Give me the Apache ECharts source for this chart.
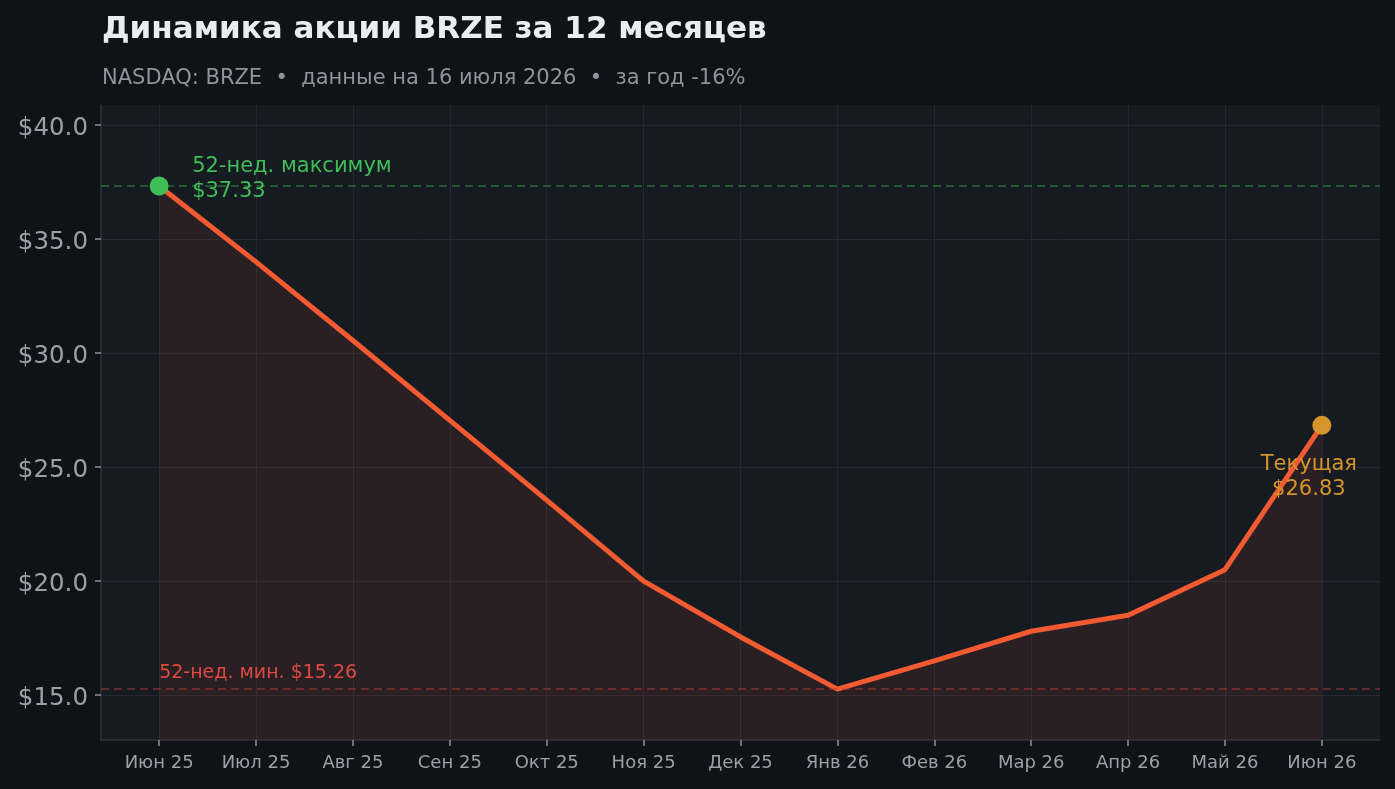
<!DOCTYPE html>
<html>
<head>
<meta charset="utf-8">
<script src="https://cdn.jsdelivr.net/npm/echarts@6/dist/echarts.min.js"></script>
<style>
html,body{margin:0;padding:0;background:#0f1317;}
#chart{width:1395px;height:789px;}
</style>
</head>
<body>
<div id="chart"></div>
<script>
const months = ['Июн 25','Июл 25','Авг 25','Сен 25','Окт 25','Ноя 25','Дек 25','Янв 26','Фев 26','Мар 26','Апр 26','Май 26','Июн 26'];
const prices = [37.33, 34.0, 30.55, 27.05, 23.55, 20.0, 17.55, 15.26, 16.5, 17.8, 18.5, 20.5, 26.83];
const yTicks = [15, 20, 25, 30, 35, 40];
const high52 = 37.33;
const low52 = 15.26;
const current = 26.83;
const titleText = 'Динамика акции BRZE за 12 месяцев';
const subtitleText = 'NASDAQ: BRZE  •  данные на 16 июля 2026  •  за год -16%';

const monthIdx = months.map((m, i) => i);
const lineData = prices.map((p, i) => [i, p]);
const FONT = 'DejaVu Sans';

const chart = echarts.init(document.getElementById('chart'), null, {renderer: 'canvas'});
chart.setOption({
  backgroundColor: '#0f1317',
  animation: false,
  title: [
    {text: titleText, left: 102, top: 14, padding: 0,
     textStyle: {fontFamily: FONT, fontSize: 31, fontWeight: 'bold', color: '#e9edf3'}},
    {text: subtitleText, left: 102, top: 68, padding: 0,
     textStyle: {fontFamily: FONT, fontSize: 21, fontWeight: 'normal', color: '#8e949d'}}
  ],
  grid: {left: 101, right: 15, top: 105, bottom: 49, show: true,
         backgroundColor: '#161a21', borderWidth: 0},
  xAxis: {
    type: 'value', min: -0.6, max: 12.6,
    axisLine: {show: true, onZero: false, lineStyle: {color: '#2e333c', width: 1.5}},
    axisTick: {show: true, customValues: monthIdx, length: 6, lineStyle: {color: '#8a909a', width: 1.5}},
    axisLabel: {customValues: monthIdx, formatter: v => months[Math.round(v)] || '',
                fontFamily: FONT, fontSize: 18, color: '#9aa0a9', margin: 14},
    splitLine: {show: true, lineStyle: {color: '#242831', width: 1}}
  },
  yAxis: {
    type: 'value', min: 13.03, max: 40.88,
    axisLine: {show: true, onZero: false, lineStyle: {color: '#2e333c', width: 1.5}},
    axisTick: {show: true, customValues: yTicks, length: 6, lineStyle: {color: '#8a909a', width: 1.5}},
    axisLabel: {customValues: yTicks, formatter: v => '{a|$' + v.toFixed(1) + '}',
                margin: 13,
                rich: {a: {fontFamily: FONT, fontSize: 24.5, color: '#9aa0a9', padding: [7, 0, 0, 0]}}},
    splitLine: {show: true, lineStyle: {color: '#242831', width: 1}}
  },
  series: [
    {
      type: 'line', data: lineData, symbol: 'none', z: 3,
      lineStyle: {color: '#f25a32', width: 5, join: 'round'},
      areaStyle: {color: 'rgba(240,90,50,0.13)', origin: 'start'},
      markLine: {
        silent: true, symbol: 'none', label: {show: false},
        data: [
          {yAxis: high52, lineStyle: {color: 'rgba(62,170,84,0.55)', type: [8, 5], width: 1.5}},
          {yAxis: low52, lineStyle: {color: 'rgba(190,60,60,0.6)', type: [8, 5], width: 1.5}}
        ]
      }
    },
    {
      type: 'scatter', z: 5, symbolSize: 19,
      data: [[0, high52]],
      itemStyle: {color: '#3fbe58', opacity: 1},
      label: {show: true, position: 'inside', align: 'left', verticalAlign: 'middle',
              offset: [33, -7], formatter: '52-нед. максимум\n$' + high52.toFixed(2),
              fontFamily: FONT, fontSize: 21, lineHeight: 25, color: '#3fbe58'}
    },
    {
      type: 'scatter', z: 5, symbolSize: 19,
      data: [[12, current]],
      itemStyle: {color: '#d4962a', opacity: 1},
      label: {show: true, position: 'inside', align: 'center', verticalAlign: 'middle',
              offset: [-13, 52], formatter: 'Текущая\n$' + current.toFixed(2),
              fontFamily: FONT, fontSize: 21, lineHeight: 25, color: '#d4962a'}
    },
    {
      type: 'scatter', z: 5, symbolSize: 1,
      data: [[0, low52]],
      itemStyle: {color: 'rgba(0,0,0,0)', opacity: 1},
      label: {show: true, position: 'inside', align: 'left', verticalAlign: 'middle',
              offset: [0, -16], formatter: '52-нед. мин. $' + low52.toFixed(2),
              fontFamily: FONT, fontSize: 19, color: '#dc4a40'}
    }
  ]
});
</script>
</body>
</html>
